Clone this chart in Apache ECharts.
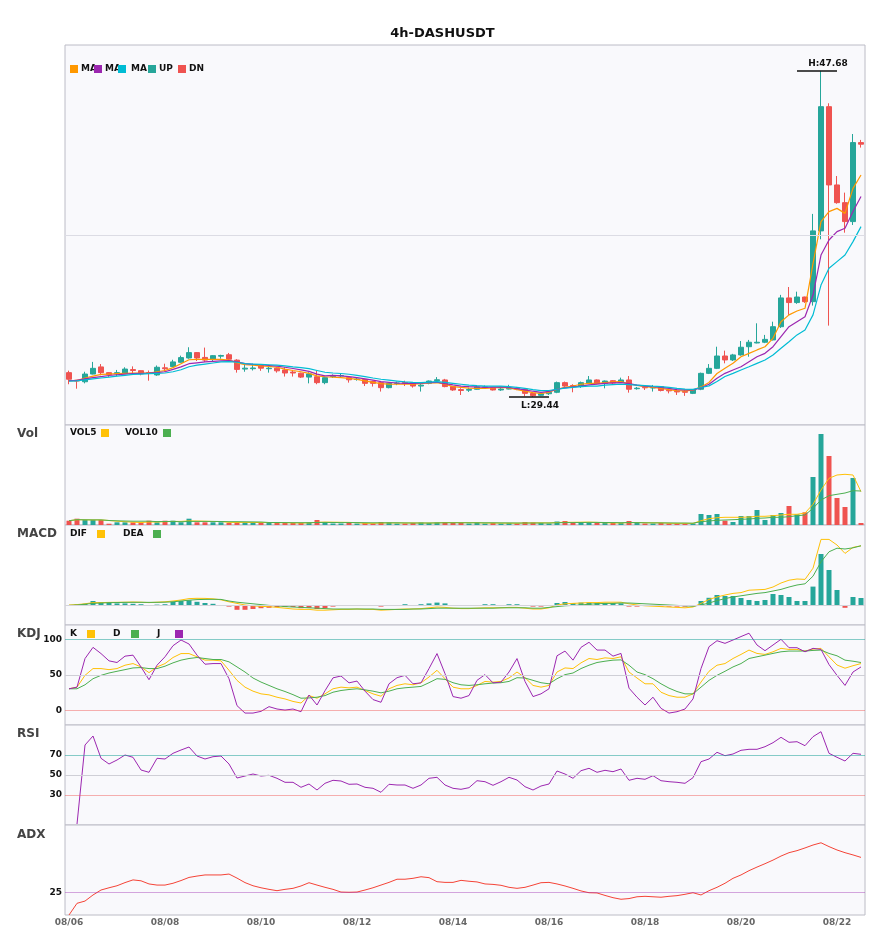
<!DOCTYPE html>
<html>
<head>
<meta charset="utf-8">
<title>4h-DASHUSDT</title>
<script src="https://cdn.jsdelivr.net/npm/echarts@6.0.0/dist/echarts.min.js"></script>
<style>
  html, body { margin: 0; padding: 0; background: #fff; }
  #main { width: 885px; height: 950px; }
</style>
</head>
<body>
<div id="main"></div>
<script>
// 日期与4小时时段，拼成类目轴
const days = ["08/06", "08/07", "08/08", "08/09", "08/10", "08/11", "08/12", "08/13", "08/14",
  "08/15", "08/16", "08/17", "08/18", "08/19", "08/20", "08/21", "08/22"];
const hours = ["00:00", "04:00", "08:00", "12:00", "16:00", "20:00"];
const candleCount = 100;

// K线 开 收 低 高
const opens = [
  30.80, 30.38, 30.29, 30.72, 31.12, 30.80, 30.74, 30.77, 30.97, 30.91,
  30.80, 30.67, 31.07, 31.14, 31.38, 31.62, 31.92, 31.65, 31.55, 31.72,
  31.80, 31.50, 31.00, 31.02, 31.20, 31.02, 31.05, 30.95, 30.83, 30.77,
  30.55, 30.57, 30.24, 30.58, 30.62, 30.52, 30.42, 30.42, 30.30, 30.24,
  29.96, 30.20, 30.25, 30.24, 30.05, 30.20, 30.35, 30.39, 30.02, 29.85,
  29.82, 29.87, 29.98, 29.96, 29.83, 29.88, 29.92, 29.87, 29.64, 29.53,
  29.62, 29.70, 30.24, 30.08, 30.02, 30.22, 30.39, 30.20, 30.35, 30.26,
  30.39, 29.90, 29.98, 29.94, 30.02, 29.82, 29.76, 29.75, 29.64, 29.87,
  30.76, 31.04, 31.73, 31.51, 31.79, 32.25, 32.46, 32.50, 32.63, 33.37,
  34.98, 34.72, 35.03, 34.77, 38.73, 45.68, 41.30, 40.31, 39.25, 43.67
];
const closes = [
  30.43, 30.33, 30.72, 31.04, 30.80, 30.70, 30.80, 31.00, 30.92, 30.73,
  30.76, 31.10, 31.02, 31.40, 31.64, 31.92, 31.62, 31.50, 31.75, 31.76,
  31.55, 30.98, 31.05, 31.06, 31.05, 31.05, 30.90, 30.78, 30.78, 30.55,
  30.73, 30.24, 30.52, 30.62, 30.64, 30.40, 30.44, 30.20, 30.20, 29.96,
  30.20, 30.22, 30.20, 30.05, 30.10, 30.33, 30.40, 30.02, 29.83, 29.80,
  29.86, 30.00, 30.00, 29.83, 29.88, 29.92, 29.88, 29.64, 29.51, 29.62,
  29.70, 30.24, 30.05, 30.03, 30.24, 30.39, 30.20, 30.33, 30.22, 30.39,
  29.87, 29.93, 29.95, 29.97, 29.80, 29.78, 29.72, 29.70, 29.83, 30.76,
  31.04, 31.73, 31.51, 31.79, 32.22, 32.50, 32.50, 32.66, 33.37, 34.98,
  34.72, 35.03, 34.77, 38.73, 45.68, 41.30, 40.31, 39.25, 43.67, 43.58
];
const lows = [
  30.15, 29.90, 30.20, 30.70, 30.65, 30.55, 30.60, 30.72, 30.75, 30.65,
  30.35, 30.62, 30.85, 31.10, 31.35, 31.58, 31.45, 31.40, 31.45, 31.58,
  31.42, 30.80, 30.85, 30.92, 30.90, 30.80, 30.80, 30.58, 30.58, 30.50,
  30.20, 30.15, 30.15, 30.50, 30.55, 30.24, 30.35, 30.05, 30.02, 29.74,
  29.92, 30.10, 30.05, 29.96, 29.74, 30.15, 30.24, 29.98, 29.78, 29.55,
  29.72, 29.85, 29.90, 29.80, 29.78, 29.86, 29.82, 29.48, 29.44, 29.50,
  29.55, 29.65, 30.00, 29.70, 29.95, 30.18, 30.15, 29.92, 30.15, 30.22,
  29.68, 29.85, 29.83, 29.74, 29.75, 29.64, 29.55, 29.50, 29.60, 29.82,
  30.72, 31.00, 31.32, 31.45, 31.75, 31.69, 32.44, 32.45, 32.60, 33.30,
  34.03, 34.65, 34.70, 34.55, 38.26, 33.43, 40.25, 38.63, 39.06, 43.39
];
const highs = [
  30.91, 30.40, 30.85, 31.40, 31.28, 30.82, 30.95, 31.10, 31.15, 30.92,
  30.92, 31.20, 31.30, 31.52, 31.75, 32.22, 31.95, 32.20, 31.78, 31.80,
  31.90, 31.55, 31.25, 31.30, 31.28, 31.23, 31.10, 31.10, 30.95, 30.80,
  30.82, 30.90, 30.55, 30.70, 30.75, 30.55, 30.55, 30.45, 30.35, 30.28,
  30.22, 30.30, 30.35, 30.26, 30.18, 30.36, 30.55, 30.45, 30.05, 29.93,
  29.95, 30.05, 30.08, 30.00, 29.95, 30.12, 30.00, 29.90, 29.66, 29.66,
  29.75, 30.30, 30.30, 30.15, 30.30, 30.61, 30.42, 30.36, 30.38, 30.52,
  30.61, 30.00, 30.02, 30.11, 30.05, 29.83, 29.78, 29.83, 29.86, 30.80,
  31.28, 32.25, 32.03, 31.85, 32.57, 32.63, 33.56, 32.91, 33.65, 35.15,
  35.59, 35.33, 35.05, 39.68, 47.68, 45.87, 41.80, 40.87, 44.15, 43.82
];

// 三条均线（快 / 中 / 慢）
const maFast = [
  30.35, 30.35, 30.50, 30.60, 30.70, 30.72, 30.74, 30.76, 30.78, 30.78,
  30.78, 30.85, 30.92, 31.08, 31.30, 31.52, 31.54, 31.54, 31.54, 31.54,
  31.50, 31.35, 31.25, 31.22, 31.18, 31.15, 31.10, 31.00, 30.92, 30.85,
  30.76, 30.62, 30.57, 30.55, 30.52, 30.48, 30.42, 30.34, 30.25, 30.18,
  30.16, 30.15, 30.15, 30.15, 30.18, 30.22, 30.24, 30.15, 30.02, 29.97,
  29.93, 29.92, 29.92, 29.94, 29.97, 29.95, 29.85, 29.77, 29.68, 29.64,
  29.70, 29.87, 29.98, 30.05, 30.15, 30.20, 30.20, 30.24, 30.28, 30.30,
  30.18, 30.08, 30.02, 29.97, 29.92, 29.85, 29.79, 29.78, 29.82, 30.00,
  30.25, 30.75, 31.04, 31.32, 31.69, 31.88, 32.07, 32.25, 32.72, 33.65,
  34.03, 34.25, 34.40, 36.90, 39.25, 39.81, 39.99, 39.71, 41.11, 41.86
];
const maMid = [
  30.35, 30.37, 30.45, 30.52, 30.58, 30.64, 30.68, 30.72, 30.75, 30.76,
  30.77, 30.80, 30.85, 30.98, 31.12, 31.30, 31.35, 31.40, 31.43, 31.46,
  31.47, 31.41, 31.30, 31.26, 31.24, 31.20, 31.16, 31.10, 31.03, 30.95,
  30.87, 30.72, 30.62, 30.65, 30.62, 30.58, 30.52, 30.45, 30.38, 30.30,
  30.26, 30.22, 30.20, 30.20, 30.21, 30.24, 30.26, 30.18, 30.11, 30.05,
  30.02, 30.00, 29.98, 29.99, 30.00, 29.98, 29.90, 29.83, 29.76, 29.70,
  29.75, 29.87, 29.95, 30.00, 30.05, 30.12, 30.16, 30.20, 30.23, 30.24,
  30.18, 30.10, 30.05, 30.01, 29.98, 29.92, 29.85, 29.83, 29.83, 29.95,
  30.15, 30.48, 30.76, 30.95, 31.13, 31.41, 31.69, 31.88, 32.25, 32.81,
  33.37, 33.65, 33.93, 35.14, 37.38, 38.22, 38.69, 38.88, 39.81, 40.65
];
const maSlow = [
  30.32, 30.34, 30.40, 30.45, 30.50, 30.55, 30.60, 30.65, 30.70, 30.72,
  30.74, 30.76, 30.78, 30.85, 30.96, 31.13, 31.22, 31.28, 31.34, 31.40,
  31.42, 31.38, 31.30, 31.28, 31.26, 31.24, 31.22, 31.18, 31.12, 31.08,
  31.02, 30.92, 30.82, 30.78, 30.75, 30.71, 30.65, 30.58, 30.50, 30.43,
  30.38, 30.33, 30.28, 30.25, 30.24, 30.27, 30.30, 30.25, 30.20, 30.15,
  30.10, 30.07, 30.05, 30.05, 30.05, 30.02, 29.97, 29.92, 29.85, 29.79,
  29.80, 29.87, 29.93, 29.98, 30.02, 30.04, 30.05, 30.10, 30.13, 30.15,
  30.13, 30.10, 30.07, 30.04, 30.02, 29.97, 29.92, 29.88, 29.86, 29.97,
  30.06, 30.30, 30.58, 30.76, 30.95, 31.13, 31.32, 31.51, 31.79, 32.16,
  32.53, 32.91, 33.19, 34.03, 35.70, 36.64, 37.01, 37.38, 38.13, 38.97
];

// 成交量（相对单位）及其均线
const volumes = [
  4.3, 6.3, 5, 5, 5, 1.3, 2.7, 2.7, 2.7, 2.7,
  4.3, 2.7, 4.3, 4.3, 2.7, 6.3, 2.7, 2.7, 2.7, 2.7,
  2, 2.7, 2.7, 2.7, 2.7, 2, 2, 2, 2, 2,
  2.5, 5, 3, 1.5, 1.5, 2, 1.5, 2, 1.5, 3,
  2.5, 1.5, 1.5, 2, 2.5, 2, 2.5, 3, 2, 2.5,
  1.5, 2.5, 1.5, 2, 1.5, 2, 1.5, 3, 2.5, 2,
  1.5, 3.5, 4, 2.5, 2.5, 2, 2, 2, 2, 2,
  4, 2, 1.5, 1.5, 2, 1.5, 1.5, 1.5, 1.5, 11,
  10, 11, 4.3, 3, 9, 9, 15, 5, 10, 12,
  19, 10.7, 12.7, 48, 91, 69, 27, 18, 47, 2
];
const vol5 = [
  4.3, 5.3, 5.2, 5.1, 5.1, 4.5, 3.8, 3.3, 2.8, 2.5,
  3, 3, 3.3, 3.6, 3.6, 4.1, 4, 3.8, 3.5, 3.5,
  2.6, 2.6, 2.6, 2.5, 2.5, 2.4, 2.3, 2.3, 2.1, 2,
  2.1, 2.7, 2.9, 2.8, 2.7, 2.6, 2.3, 1.7, 1.7, 2,
  2.1, 2.1, 2, 2.1, 2, 2, 2.1, 2.4, 2.4, 2.4,
  2.3, 2.3, 2, 2, 1.9, 1.8, 1.8, 2, 2.1, 2.2,
  2.1, 2.5, 2.7, 2.7, 2.8, 2.9, 2.6, 2.2, 2.1, 2,
  2.4, 2.4, 2.3, 2.2, 2.2, 1.7, 1.6, 1.6, 1.6, 4.3,
  6.3, 7.3, 7.7, 7.7, 7.7, 8, 8.7, 8.7, 9.3, 10,
  10.7, 10.7, 12, 20.7, 35, 46.7, 50, 50.7, 50, 33.3
];
const vol10 = [
  4.3, 5.3, 5.2, 5.1, 5.1, 4.5, 4.2, 4, 3.8, 3.8,
  3.8, 3.4, 3.5, 3.6, 3.2, 3.6, 3.6, 3.6, 3.6, 3.5,
  3.3, 3.3, 3.2, 3.1, 3, 2.5, 2.5, 2.4, 2.3, 2.3,
  2.3, 2.5, 2.6, 2.5, 2.4, 2.4, 2.4, 2.3, 2.2, 2.2,
  2.2, 2.2, 2.1, 2, 2, 2, 2.1, 2.2, 2.2, 2.2,
  2.2, 2.2, 2.2, 2.2, 2.1, 2.1, 2, 2, 2, 2,
  2, 2.2, 2.4, 2.4, 2.5, 2.6, 2.6, 2.5, 2.4, 2.3,
  2.4, 2.4, 2.2, 2.1, 2.1, 2.1, 2, 2, 1.8, 3.3,
  4, 4.7, 5, 5.3, 5.7, 6, 6.7, 7, 7.7, 7.7,
  8.3, 9.3, 10, 16.7, 25, 29.3, 30.7, 32, 34.3, 34
];

// MACD
const difs = [
  0, 0.01, 0.03, 0.06, 0.06, 0.065, 0.067, 0.07, 0.075, 0.07,
  0.06, 0.07, 0.08, 0.1, 0.125, 0.16, 0.167, 0.165, 0.155, 0.13,
  0.08, 0.04, 0, -0.02, -0.035, -0.042, -0.06, -0.08, -0.1, -0.11,
  -0.11, -0.13, -0.13, -0.12, -0.11, -0.11, -0.1, -0.11, -0.11, -0.13,
  -0.12, -0.11, -0.1, -0.1, -0.09, -0.07, -0.05, -0.06, -0.08, -0.09,
  -0.09, -0.08, -0.07, -0.07, -0.07, -0.06, -0.06, -0.08, -0.1, -0.1,
  -0.07, 0, 0.03, 0.04, 0.05, 0.06, 0.06, 0.07, 0.07, 0.07,
  0.03, 0, -0.02, -0.03, -0.04, -0.05, -0.06, -0.07, -0.05, 0.04,
  0.14, 0.2, 0.25, 0.29, 0.31, 0.37, 0.38, 0.39, 0.45, 0.55,
  0.62, 0.65, 0.64, 0.92, 1.64, 1.64, 1.5, 1.29, 1.44, 1.48
];
const deas = [
  -0.01, 0, 0.02, 0.04, 0.05, 0.058, 0.062, 0.066, 0.067, 0.067,
  0.066, 0.067, 0.07, 0.08, 0.1, 0.12, 0.135, 0.14, 0.142, 0.14,
  0.1, 0.07, 0.05, 0.03, 0.01, -0.01, -0.02, -0.04, -0.05, -0.06,
  -0.07, -0.08, -0.09, -0.1, -0.1, -0.1, -0.1, -0.1, -0.1, -0.11,
  -0.11, -0.11, -0.11, -0.1, -0.1, -0.09, -0.08, -0.08, -0.08, -0.08,
  -0.08, -0.08, -0.08, -0.08, -0.07, -0.07, -0.07, -0.07, -0.08, -0.08,
  -0.06, -0.04, -0.02, -0.01, 0, 0.02, 0.03, 0.04, 0.04, 0.05,
  0.05, 0.04, 0.03, 0.02, 0.01, 0, -0.01, -0.02, -0.03, 0,
  0.05, 0.11, 0.16, 0.2, 0.23, 0.26, 0.29, 0.31, 0.35, 0.39,
  0.45, 0.5, 0.53, 0.72, 1.08, 1.33, 1.42, 1.4, 1.43, 1.48
];
const macdBars = [
  0, 0.02, 0.03, 0.1, 0.07, 0.07, 0.04, 0.04, 0.03, 0.02,
  -0.02, 0.01, 0.02, 0.08, 0.1, 0.12, 0.08, 0.05, 0.03, -0.01,
  -0.04, -0.12, -0.12, -0.1, -0.08, -0.07, -0.05, -0.05, -0.05, -0.08,
  -0.07, -0.1, -0.08, -0.04, -0.02, -0.02, 0, -0.02, -0.02, -0.04,
  -0.02, 0, 0.02, 0, 0.02, 0.04, 0.06, 0.04, 0, -0.02,
  -0.02, 0, 0.02, 0.02, 0, 0.02, 0.02, -0.02, -0.04, -0.04,
  -0.02, 0.05, 0.075, 0.05, 0.06, 0.06, 0.05, 0.05, 0.05, 0.04,
  -0.04, -0.04, -0.02, -0.02, -0.04, -0.04, -0.04, -0.04, -0.03, 0.1,
  0.18, 0.25, 0.225, 0.225, 0.175, 0.125, 0.1, 0.125, 0.275, 0.25,
  0.2, 0.1, 0.1, 0.46, 1.275, 0.875, 0.375, -0.07, 0.2, 0.175
];

// KDJ
const kValues = [
  30.7, 33, 49.5, 59, 59, 57.5, 59, 63.7, 66, 61.3,
  53.3, 61.3, 66, 74.5, 80, 80, 75.5, 70.8, 70.8, 69.8,
  56.6, 42.5, 33, 27.4, 23.6, 22.2, 18.9, 16.5, 13, 10.8,
  21.2, 17.5, 23.6, 30.7, 33, 32, 33, 28.3, 23.6, 20.3,
  30.7, 35.4, 37.7, 36.3, 39, 47.2, 56.6, 44.8, 33, 30.7,
  30.7, 35.4, 41, 40, 41, 45.8, 54.2, 46.2, 35.4, 33,
  35.4, 54.2, 59.9, 59, 67, 73.1, 71.7, 74, 73.1, 75.5,
  54.2, 45.8, 37.7, 37.7, 25.9, 21.2, 18.9, 18.9, 23.6, 40.1,
  55.2, 63.7, 66, 73.1, 78.8, 84.9, 80.2, 78.8, 82.5, 87.3,
  85.8, 85.8, 83.5, 86.3, 87.3, 75.5, 64, 59.5, 63, 66
];
const dValues = [
  30.7, 30.7, 36.3, 44.8, 49.5, 52.8, 55.2, 57.5, 59.9, 60.4,
  59, 59, 62.3, 67, 70.8, 73.1, 74.5, 73.1, 71.7, 71.7,
  68.4, 61.3, 54.2, 45.8, 40.1, 35.4, 30.7, 26.9, 22.5, 17.5,
  17.9, 18.9, 21.2, 25.9, 28.3, 29.7, 30.7, 29.2, 27.4, 25,
  27.4, 30.7, 32.1, 33, 34, 39.2, 44.8, 43.9, 39.2, 36.3,
  35.4, 36.3, 37.7, 38.7, 39.2, 41, 46.2, 45.8, 42.5, 39.2,
  37.7, 44.8, 50.5, 52.8, 59, 63.7, 67.5, 69.3, 70.8, 71.2,
  63.7, 54.2, 50.5, 44.8, 37.7, 31.6, 26.9, 23.6, 23.6, 33,
  42.5, 49.5, 55.2, 61.3, 66, 73.1, 75.5, 77.8, 80.2, 82.5,
  83.5, 83.5, 83.5, 84.4, 84.9, 80.2, 76.9, 70.8, 69.3, 67.5
];
const jValues = [
  30.7, 33, 73, 88.7, 80, 69.8, 67.5, 76.4, 77.8, 61.3,
  43.4, 63.7, 75.5, 91, 99, 93.4, 77.8, 65.1, 66, 66,
  44.8, 7.1, -3.3, -3.3, -0.9, 5.7, 2.4, 0.9, 2.4, -1.4,
  22, 8, 28, 46, 48.6, 39, 41.5, 27.4, 15.6, 11.8,
  37.7, 46.2, 49.5, 37.7, 39, 59, 80, 51.9, 19.8, 17.5,
  21.2, 42.5, 50.5, 39, 40, 54.2, 73, 41, 19.8, 23.6,
  30.7, 76.9, 83.5, 70.8, 88.7, 95.8, 84.9, 84.9, 76.4, 80.2,
  31.6, 18.9, 8, 18.9, 3.3, -3.3, -1.4, 2.4, 16.5, 59,
  89.6, 98, 94.3, 99, 103.8, 108.5, 92, 84, 92, 100,
  88.2, 88.2, 82.5, 87.3, 85.8, 64.6, 49.5, 35.4, 54.2, 61.3
];

// RSI
const rsiValues = [
  null, 1, 80, 89, 66.7, 61, 65, 70, 67.7, 55,
  52.7, 66.7, 66, 71.7, 75, 78, 69, 66, 68.3, 69,
  61, 47, 49, 51, 49, 49.7, 46.7, 42.7, 42.7, 37.7,
  41, 35, 41.7, 44.7, 44, 40.7, 41, 37.7, 36.7, 32.7,
  40.7, 40, 40, 36.7, 40, 46.7, 47.7, 40, 36.7, 35.7,
  37.3, 44.3, 43.3, 39.7, 43.3, 47.7, 45, 38.3, 35, 39,
  41, 54, 51, 46.7, 54.3, 56.7, 52.7, 54.7, 53.3, 56,
  44.7, 46.7, 45.7, 49.3, 44.3, 43.3, 42.7, 41.7, 47.3, 63.3,
  66, 72.7, 69.3, 71, 74.7, 75.7, 75.7, 78.3, 82.3, 87.7,
  82.7, 83.3, 79.3, 88.3, 93.3, 71.7, 67.7, 64, 71.7, 70.7
];

// ADX
const adxValues = [
  15, 20.2, 21.2, 23.9, 26.1, 27.1, 28, 29.4, 30.6, 30.2,
  28.8, 28.3, 28.3, 29.1, 30.3, 31.7, 32.3, 32.8, 32.8, 32.8,
  33.2, 31.4, 29.4, 28, 27.1, 26.4, 25.8, 26.4, 26.85, 27.9,
  29.35, 28.3, 27.3, 26.4, 25.2, 25.1, 25.2, 26.1, 27.1, 28.3,
  29.5, 30.9, 30.9, 31.3, 32, 31.6, 29.8, 29.5, 29.5, 30.4,
  30, 29.7, 28.8, 28.6, 28.2, 27.3, 26.85, 27.3, 28.3, 29.35,
  29.5, 28.8, 27.9, 26.85, 25.7, 24.9, 24.8, 23.7, 22.7, 22,
  22.3, 23.1, 23.3, 23.1, 22.9, 23.3, 23.6, 24.2, 24.9, 23.9,
  25.8, 27.3, 29.1, 31.3, 32.8, 34.7, 36.3, 37.8, 39.4, 41.2,
  42.7, 43.6, 44.8, 46.1, 47.1, 45.4, 43.9, 42.7, 41.7, 40.6
];

// 各副图参考线
const kdjLevels = [0, 50, 100];
const rsiLevels = [30, 50, 70];
const adxLevels = [25];

(function () {
  const upColor = "#26a69a";
  const downColor = "#ef5350";
  const font = "DejaVu Sans";

  const categories = [];
  days.forEach((d) => hours.forEach((h) => categories.push(d + " " + h)));
  categories.length = candleCount;

  const candleData = opens.map((o, i) => [o, closes[i], lows[i], highs[i]]);
  const volData = volumes.map((v, i) => ({
    value: v,
    itemStyle: { color: closes[i] >= opens[i] ? upColor : downColor },
  }));
  const macdData = macdBars.map((v) => ({
    value: v,
    itemStyle: { color: v >= 0 ? upColor : downColor },
  }));

  const hiVal = Math.max(...highs);
  const hiIdx = highs.indexOf(hiVal);
  const loVal = Math.min(...lows);
  const loIdx = lows.indexOf(loVal);
  const priceMin = 27.87;
  const priceMax = 49.13;

  // 面板布局：主图 + 5 个副图
  const panelTops = [45, 425, 525, 625, 725, 825];
  const panelHeights = [380, 100, 100, 100, 100, 90];

  const grids = panelTops.map((t, i) => ({
    left: 65,
    right: 20,
    top: t,
    height: panelHeights[i],
    show: true,
    backgroundColor: "#f9f9fc",
    borderColor: "#bcbcc6",
    borderWidth: 1,
  }));

  const xAxes = panelTops.map((t, i) => ({
    type: "category",
    gridIndex: i,
    data: categories,
    boundaryGap: true,
    axisLine: { show: false },
    axisTick: { show: false },
    splitLine: { show: false },
    axisLabel: {
      show: i === panelTops.length - 1,
      interval: 11,
      margin: 3,
      color: "#666",
      fontWeight: "bold",
      fontSize: 9,
      fontFamily: font,
      formatter: (v) => v.slice(0, 5),
    },
  }));

  function levelLabel(levels) {
    return {
      show: true,
      margin: 3,
      color: "#111",
      fontWeight: "bold",
      fontSize: 9,
      fontFamily: font,
      formatter: (v) => (levels.indexOf(v) >= 0 ? String(v) : ""),
    };
  }
  const hidden = {
    axisLine: { show: false },
    axisTick: { show: false },
    splitLine: { show: false },
  };
  const yAxes = [
    Object.assign({ type: "value", gridIndex: 0, min: priceMin, max: priceMax, axisLabel: { show: false } }, hidden),
    Object.assign({ type: "value", gridIndex: 1, min: 0, max: 100, axisLabel: { show: false } }, hidden),
    Object.assign({ type: "value", gridIndex: 2, min: -0.5, max: 2, axisLabel: { show: false } }, hidden),
    Object.assign({ type: "value", gridIndex: 3, min: -20, max: 120, interval: 10, axisLabel: levelLabel(kdjLevels) }, hidden),
    Object.assign({ type: "value", gridIndex: 4, min: 0, max: 100, interval: 10, axisLabel: levelLabel(rsiLevels) }, hidden),
    Object.assign({ type: "value", gridIndex: 5, min: 15, max: 55, interval: 5, axisLabel: levelLabel(adxLevels) }, hidden),
  ];

  // 参考线颜色：高位青、中位灰、低位粉
  function levelLines(levels, colors) {
    return {
      silent: true,
      symbol: ["none", "none"],
      animation: false,
      label: { show: false },
      data: levels.map((v, i) => ({ yAxis: v, lineStyle: { color: colors[i], width: 1, type: "solid" } })),
    };
  }

  function line(name, data, color, xi, width) {
    return {
      name: name,
      type: "line",
      xAxisIndex: xi,
      yAxisIndex: xi,
      data: data,
      showSymbol: false,
      symbol: "none",
      smooth: false,
      lineStyle: { color: color, width: width || 1 },
      itemStyle: { color: color },
      z: 3,
    };
  }

  const hlLabel = {
    show: true,
    color: "#111",
    fontWeight: "bold",
    fontSize: 9,
    fontFamily: font,
    padding: [0, 0, 0, 22],
  };

  const series = [
    {
      name: "K",
      type: "candlestick",
      xAxisIndex: 0,
      yAxisIndex: 0,
      data: candleData,
      barWidth: 6,
      itemStyle: {
        color: upColor,
        color0: downColor,
        borderColor: upColor,
        borderColor0: downColor,
        borderWidth: 1,
      },
      markLine: {
        silent: true,
        symbol: ["none", "none"],
        animation: false,
        data: [
          { yAxis: (priceMin + priceMax) / 2, label: { show: false }, lineStyle: { color: "#dcdce4", width: 1, type: "solid" } },
          [
            { coord: [hiIdx - 3, hiVal], lineStyle: { color: "#111", width: 1.5, type: "solid" },
              label: Object.assign({ position: "insideMiddleTop", distance: 3, formatter: "H:" + hiVal.toFixed(2) }, hlLabel) },
            { coord: [hiIdx + 2, hiVal] },
          ],
          [
            { coord: [loIdx - 3, loVal], lineStyle: { color: "#111", width: 1.5, type: "solid" },
              label: Object.assign({ position: "insideMiddleBottom", distance: 4, formatter: "L:" + loVal.toFixed(2) }, hlLabel) },
            { coord: [loIdx + 2, loVal] },
          ],
        ],
      },
    },
    line("MA5", maFast, "#ff9800", 0, 1.2),
    line("MA10", maMid, "#9c27b0", 0, 1.2),
    line("MA20", maSlow, "#00bcd4", 0, 1.2),
    { name: "VOL", type: "bar", xAxisIndex: 1, yAxisIndex: 1, data: volData, barWidth: 5 },
    line("VOL5", vol5, "#ffc107", 1),
    line("VOL10", vol10, "#4caf50", 1),
    {
      name: "MACD",
      type: "bar",
      xAxisIndex: 2,
      yAxisIndex: 2,
      data: macdData,
      barWidth: 5,
      markLine: levelLines([0], ["#d4d4da"]),
    },
    line("DIF", difs, "#ffc107", 2),
    line("DEA", deas, "#4caf50", 2),
    Object.assign(line("K", kValues, "#ffc107", 3), {
      markLine: levelLines(kdjLevels, ["rgba(239,83,80,0.45)", "#cfcfd6", "rgba(38,166,154,0.55)"]),
    }),
    line("D", dValues, "#4caf50", 3),
    line("J", jValues, "#9c27b0", 3),
    Object.assign(line("RSI", rsiValues, "#9c27b0", 4), {
      markLine: levelLines(rsiLevels, ["rgba(239,83,80,0.45)", "#cfcfd6", "rgba(38,166,154,0.55)"]),
    }),
    Object.assign(line("ADX", adxValues, "#f44336", 5), {
      markLine: levelLines(adxLevels, ["rgba(156,39,176,0.4)"]),
    }),
  ];

  // 图例：用小方块 + 文字摆放
  function legendText(x, y, text) {
    return {
      type: "text",
      x: x,
      y: y,
      z: 100,
      style: { text: text, font: "bold 9px '" + font + "'", fill: "#111", textVerticalAlign: "middle", verticalAlign: "middle" },
    };
  }
  function legendBox(x, y, color) {
    return { type: "rect", z: 101, shape: { x: x, y: y - 4, width: 8, height: 8 }, style: { fill: color } };
  }
  const graphic = [
    legendText(81, 69, "MA"), legendText(105, 69, "MA"), legendText(131, 69, "MA"),
    legendText(159, 69, "UP"), legendText(189, 69, "DN"),
    legendBox(70, 69, "#ff9800"), legendBox(94, 69, "#9c27b0"), legendBox(118, 69, "#00bcd4"),
    legendBox(148, 69, upColor), legendBox(178, 69, downColor),
    legendText(70, 433, "VOL5"), legendBox(101, 433, "#ffc107"),
    legendText(125, 433, "VOL10"), legendBox(163, 433, "#4caf50"),
    legendText(70, 534, "DIF"), legendBox(97, 534, "#ffc107"),
    legendText(123, 534, "DEA"), legendBox(153, 534, "#4caf50"),
    legendText(70, 634, "K"), legendBox(87, 634, "#ffc107"),
    legendText(113, 634, "D"), legendBox(131, 634, "#4caf50"),
    legendText(157, 634, "J"), legendBox(175, 634, "#9c27b0"),
  ];

  const panelTitle = (text, top) => ({
    text: text,
    left: 17,
    top: top,
    padding: 0,
    textStyle: { fontSize: 12, fontWeight: "bold", color: "#444", fontFamily: font },
  });

  const option = {
    animation: false,
    backgroundColor: "#fff",
    textStyle: { fontFamily: font },
    title: [
      { text: "4h-DASHUSDT", left: "center", top: 27, padding: 0,
        textStyle: { fontSize: 13, fontWeight: "bold", color: "#111", fontFamily: font } },
      panelTitle("Vol", 428),
      panelTitle("MACD", 528),
      panelTitle("KDJ", 628),
      panelTitle("RSI", 728),
      panelTitle("ADX", 829),
    ],
    grid: grids,
    xAxis: xAxes,
    yAxis: yAxes,
    series: series,
    graphic: graphic,
  };

  const myChart = echarts.init(document.getElementById("main"));
  myChart.setOption(option);
  window.addEventListener("resize", function () {
    myChart.resize();
  });
})();
</script>
</body>
</html>
